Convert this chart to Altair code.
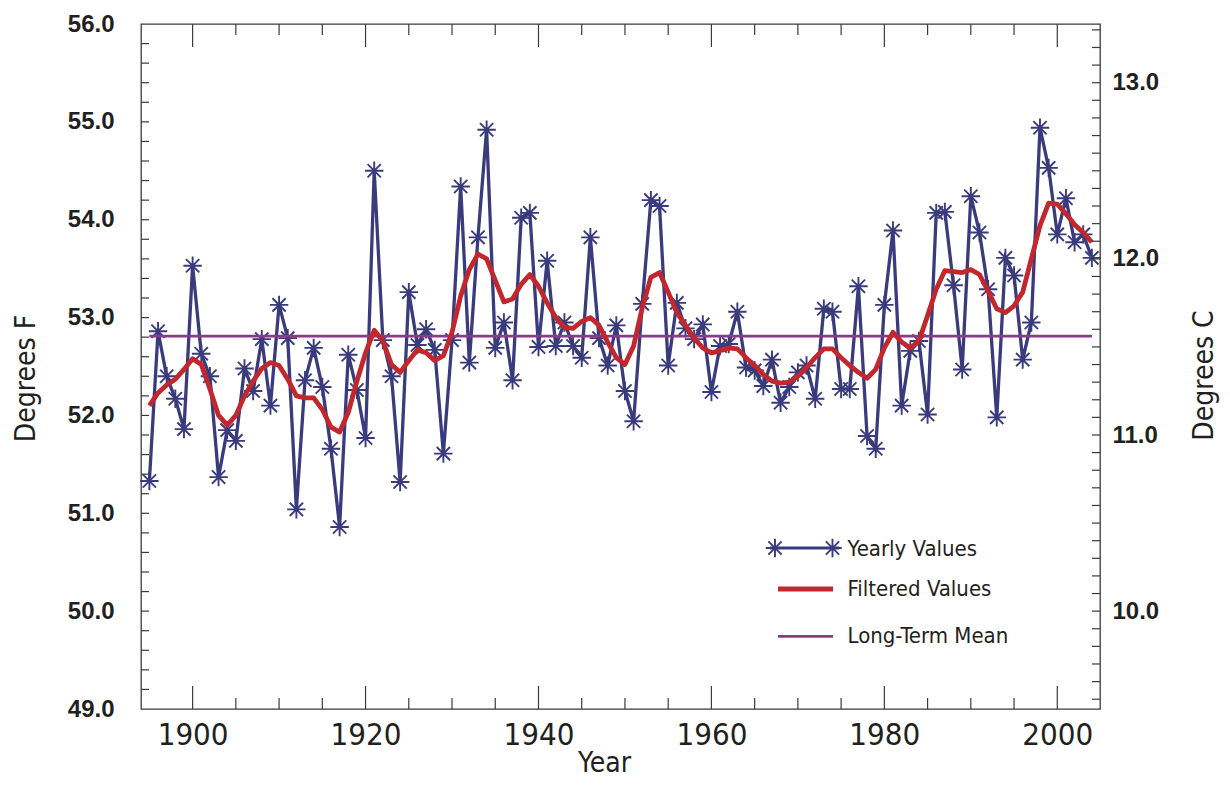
import altair as alt
import pandas as pd

# ---------------- data ----------------
years = list(range(1895, 2005))

yearly = [
    51.33, 52.86, 52.40, 52.17, 51.86, 53.53, 52.63, 52.40, 51.37, 51.85,   # 1895-1904
    51.74, 52.48, 52.25, 52.78, 52.10, 53.13, 52.79, 51.04, 52.36, 52.69,   # 1905-1914
    52.29, 51.66, 50.86, 52.62, 52.26, 51.77, 54.50, 52.77, 52.40, 51.32,   # 1915-1924
    53.26, 52.72, 52.88, 52.67, 51.61, 52.77, 54.34, 52.54, 53.82, 54.92,   # 1925-1934
    52.69, 52.95, 52.36, 54.02, 54.07, 52.70, 53.58, 52.71, 52.95, 52.71,   # 1935-1944
    52.59, 53.82, 52.79, 52.51, 52.92, 52.25, 51.94, 53.14, 54.20, 54.14,   # 1945-1954
    52.51, 53.15, 52.89, 52.78, 52.93, 52.24, 52.71, 52.73, 53.06, 52.49,   # 1955-1964
    52.46, 52.30, 52.57, 52.13, 52.29, 52.44, 52.51, 52.17, 53.09, 53.06,   # 1965-1974
    52.27, 52.27, 53.32, 51.79, 51.66, 53.13, 53.89, 52.10, 52.66, 52.76,   # 1975-1984
    52.01, 54.07, 54.08, 53.33, 52.47, 54.24, 53.87, 53.29, 51.98, 53.61,   # 1985-1994
    53.43, 52.57, 52.95, 54.94, 54.53, 53.85, 54.22, 53.77, 53.85, 53.61,   # 1995-2004
]

filtered = [
    52.10, 52.23, 52.31, 52.37, 52.47, 52.58, 52.52, 52.27, 52.00, 51.90,
    52.00, 52.20, 52.35, 52.48, 52.54, 52.51, 52.37, 52.20, 52.18, 52.18,
    52.06, 51.88, 51.83, 52.03, 52.35, 52.64, 52.87, 52.76, 52.52, 52.44,
    52.56, 52.67, 52.64, 52.56, 52.61, 52.85, 53.22, 53.49, 53.65, 53.60,
    53.38, 53.16, 53.19, 53.34, 53.44, 53.32, 53.15, 53.00, 52.90, 52.89,
    52.96, 53.00, 52.92, 52.75, 52.59, 52.52, 52.71, 53.10, 53.41, 53.46,
    53.26, 53.05, 52.92, 52.79, 52.69, 52.64, 52.66, 52.69, 52.68, 52.59,
    52.51, 52.42, 52.35, 52.33, 52.34, 52.40, 52.49, 52.59, 52.68, 52.68,
    52.59, 52.51, 52.44, 52.38, 52.47, 52.69, 52.85, 52.75, 52.69, 52.76,
    53.02, 53.29, 53.48, 53.47, 53.46, 53.49, 53.44, 53.27, 53.09, 53.05,
    53.12, 53.26, 53.60, 53.94, 54.17, 54.16, 54.06, 53.95, 53.87, 53.77,
]

long_term_mean = 52.81
mean_span = [1895, 2004]

x_major_ticks = [1900, 1920, 1940, 1960, 1980, 2000]
x_minor_ticks = [y for y in range(1905, 2000, 5) if y not in x_major_ticks]
y_left_labels = [49, 50, 51, 52, 53, 54, 55, 56]
y_left_ticks = [round(49 + 0.2 * i, 1) for i in range(1, 35)]
y_right_labels = [10, 11, 12, 13]
y_right_ticks = [round(9.5 + 0.1 * i, 1) for i in range(0, 39)]
legend_labels = ["Yearly Values", "Filtered Values", "Long-Term Mean"]

# ---------------- styling ----------------
W, H = 959, 685
NAVY = "#393b7d"
RED = "#c1272d"
PURPLE = "#8a3a88"
TXT = "#231f20"
FRAME = "#3a3a3a"
NARROW = "Liberation Sans Narrow, Arial Narrow, DejaVu Sans Condensed, sans-serif"
BOLD = "Liberation Sans, Arial, sans-serif"
STAR = "M-1,0L1,0M0,-1L0,1M-0.72,-0.72L0.72,0.72M-0.72,0.72L0.72,-0.72"

df = pd.DataFrame({"year": years, "yearly": yearly, "filtered": filtered})
mean_df = pd.DataFrame({"x1": [mean_span[0]], "x2": [mean_span[1]], "mean": [long_term_mean]})

xscale = alt.Scale(domain=[1894.03, 2004.94], nice=False, zero=False)
yscale = alt.Scale(domain=[49, 56], nice=False, zero=False)
cscale = alt.Scale(domain=[(49 - 32) / 1.8, (56 - 32) / 1.8], nice=False, zero=False)

x_axis = alt.Axis(
    values=x_major_ticks, format="d", ticks=False, domain=False, grid=False,
    labelFont=NARROW, labelFontSize=31, labelColor=TXT, labelPadding=11,
    labelOverlap=False, labelFlush=False,
    title="Year", titleFont=NARROW, titleFontSize=28, titleFontWeight="normal",
    titleColor=TXT, titleX=463, titleY=40, titleAlign="center", titleBaseline="top",
)
y_axis = alt.Axis(
    values=y_left_labels, format=".1f", ticks=False, domain=False, grid=False,
    labelFont=BOLD, labelFontWeight="bold", labelFontSize=24, labelColor=TXT,
    labelPadding=27, labelOverlap=False, labelFlush=False,
    title="Degrees F", titleFont=NARROW, titleFontSize=28, titleFontWeight="normal",
    titleColor=TXT, titleAngle=270, titleX=-115, titleY=354,
    titleAlign="center", titleBaseline="middle",
)
c_axis = alt.Axis(
    orient="right", values=y_right_labels, format=".1f", ticks=False, domain=False,
    grid=False, labelFont=BOLD, labelFontWeight="bold", labelFontSize=24,
    labelColor=TXT, labelPadding=12, labelOverlap=False, labelFlush=False,
    title="Degrees C", titleFont=NARROW, titleFontSize=28, titleFontWeight="normal",
    titleColor=TXT, titleAngle=270, titleX=104, titleY=351,
    titleAlign="center", titleBaseline="middle",
)

X = alt.X("year:Q", scale=xscale, axis=x_axis)


def Yf(field):
    return alt.Y(f"{field}:Q", scale=yscale, axis=y_axis)


yearly_line = alt.Chart(df).mark_line(color=NAVY, strokeWidth=3.3).encode(x=X, y=Yf("yearly"))
yearly_pts = alt.Chart(df).mark_point(
    shape=STAR, size=340, color=NAVY, strokeWidth=1.9, filled=False, opacity=1
).encode(x=X, y=Yf("yearly"))
mean_line = alt.Chart(mean_df).mark_rule(color=PURPLE, strokeWidth=2.8).encode(
    x=alt.X("x1:Q", scale=xscale, axis=x_axis), x2="x2:Q", y=Yf("mean")
)
filt_line = alt.Chart(df).mark_line(color=RED, strokeWidth=4.8, strokeJoin="round").encode(
    x=X, y=Yf("filtered")
)

# inward ticks (frame style of the reference)
lt_df = pd.DataFrame({"v": y_left_ticks})
left_ticks = alt.Chart(lt_df).mark_rule(color=FRAME, strokeWidth=1.2).encode(
    y=Yf("v"), x=alt.value(0), x2=alt.value(8)
)
xmin_df = pd.DataFrame({"year": x_minor_ticks})
xmaj_df = pd.DataFrame({"year": x_major_ticks})
bot_minor = alt.Chart(xmin_df).mark_rule(color=FRAME, strokeWidth=1.2).encode(
    x=X, y=alt.value(H), y2=alt.value(H - 11)
)
bot_major = alt.Chart(xmaj_df).mark_rule(color=FRAME, strokeWidth=1.2).encode(
    x=X, y=alt.value(H), y2=alt.value(H - 23)
)
top_minor = alt.Chart(xmin_df).mark_rule(color=FRAME, strokeWidth=1.2).encode(
    x=X, y=alt.value(0), y2=alt.value(11)
)
top_major = alt.Chart(xmaj_df).mark_rule(color=FRAME, strokeWidth=1.2).encode(
    x=X, y=alt.value(0), y2=alt.value(23)
)

# legend (drawn inside the plot, lower right)
def lab_df(i):
    return pd.DataFrame({"label": [legend_labels[i]]})


leg_yearly_line = alt.Chart(lab_df(0)).mark_rule(color=NAVY, strokeWidth=3.2).encode(
    x=alt.value(629), x2=alt.value(698), y=alt.value(524)
)
leg_star1 = alt.Chart(lab_df(0)).mark_point(
    shape=STAR, size=340, color=NAVY, strokeWidth=1.9, filled=False, opacity=1
).encode(x=alt.value(634), y=alt.value(524))
leg_star2 = alt.Chart(lab_df(0)).mark_point(
    shape=STAR, size=340, color=NAVY, strokeWidth=1.9, filled=False, opacity=1
).encode(x=alt.value(691.5), y=alt.value(524))
leg_red = alt.Chart(lab_df(1)).mark_rule(color=RED, strokeWidth=4.8).encode(
    x=alt.value(637), x2=alt.value(692), y=alt.value(565)
)
leg_purple = alt.Chart(lab_df(2)).mark_rule(color=PURPLE, strokeWidth=2.8).encode(
    x=alt.value(637), x2=alt.value(692), y=alt.value(612.4)
)
leg_text = [
    alt.Chart(lab_df(i)).mark_text(
        align="left", baseline="alphabetic", font=NARROW, fontSize=22, color=TXT
    ).encode(text="label:N", x=alt.value(706.5), y=alt.value(yy))
    for i, yy in enumerate([531.7, 572.4, 618.7])
]

left_group = alt.layer(
    left_ticks, bot_minor, bot_major, top_minor, top_major,
    yearly_line, yearly_pts, mean_line, filt_line,
    leg_yearly_line, leg_star1, leg_star2, leg_red, leg_purple, *leg_text,
)

rt_df = pd.DataFrame({"c": y_right_ticks})
right_ticks = alt.Chart(rt_df).mark_rule(color=FRAME, strokeWidth=1.2).encode(
    y=alt.Y("c:Q", scale=cscale, axis=c_axis), x=alt.value(W - 8), x2=alt.value(W)
)

chart = alt.layer(left_group, right_ticks).resolve_scale(y="independent").properties(
    width=W, height=H,
    autosize=alt.AutoSizeParams(type="none"),
    padding={"left": 133, "top": 16, "right": 122, "bottom": 68},
    background="white",
).configure_view(stroke=FRAME, strokeWidth=1.3)

chart.save("out.html", embed_options={"renderer": "svg", "actions": False})
